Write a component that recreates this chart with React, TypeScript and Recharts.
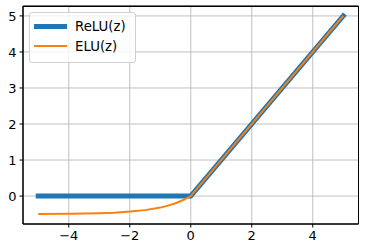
import { LineChart, Line, XAxis, YAxis, CartesianGrid, ReferenceArea } from "recharts";

// z values and activations
const reluZ = [-5, 0, 5];
const reluVals = [0, 0, 5];
const eluZ = [-5, -4, -3, -2.5, -2, -1.5, -1, -0.75, -0.5, -0.25, 0, 5];
const eluVals = [-0.5, -0.49, -0.475, -0.46, -0.43, -0.39, -0.32, -0.265, -0.2, -0.11, 0, 5];
const xTicks = [-4, -2, 0, 2, 4];
const yTicks = [0, 1, 2, 3, 4, 5];
const seriesNames = ["ReLU(z)", "ELU(z)"];

const relu = reluZ.map((x, i) => ({ x, y: reluVals[i] }));
const elu = eluZ.map((x, i) => ({ x, y: eluVals[i] }));

const xDomain = [-5.5, 5.5];
const yDomain = [-0.775, 5.275];

const font = "'DejaVu Sans', sans-serif";
const fmt = (v: number) => String(v).replace("-", "\u2212");

function LegendBox() {
  const items = [
    { name: seriesNames[0], color: "#1f77b4", w: 5 },
    { name: seriesNames[1], color: "#ff7f0e", w: 2 },
  ];
  return (
    <div
      style={{
        position: "absolute",
        left: 29,
        top: 12,
        border: "1px solid #d0d0d0",
        borderRadius: 3,
        background: "rgba(255,255,255,0.8)",
        padding: "3px 9px 6px 4px",
        fontFamily: font,
        fontSize: 13.3,
        color: "#000",
      }}
    >
      {items.map((it) => (
        <div key={it.name} style={{ display: "flex", alignItems: "center", height: 20 }}>
          <div style={{ width: 33, height: it.w, background: it.color, marginRight: 8 }} />
          <span>{it.name}</span>
        </div>
      ))}
    </div>
  );
}

export default function App() {
  return (
    <div style={{ position: "absolute", left: 0, top: 0, width: 365, height: 252 }}>
      <LineChart width={365} height={252} margin={{ top: 6, right: 6.5, bottom: 0, left: 0 }}>
        <CartesianGrid stroke="#b0b0b0" strokeWidth={0.8} />
        <XAxis
          dataKey="x"
          type="number"
          domain={xDomain}
          ticks={xTicks}
          tickFormatter={fmt}
          height={28}
          tickSize={3.5}
          tickMargin={3}
          stroke="#000"
          tick={{ fill: "#000", fontFamily: font, fontSize: 13 }}
          allowDataOverflow
        />
        <YAxis
          type="number"
          domain={yDomain}
          ticks={yTicks}
          width={23}
          tickSize={3.5}
          tickMargin={3}
          stroke="#000"
          tick={{ fill: "#000", fontFamily: font, fontSize: 13 }}
          allowDataOverflow
        />
        <Line
          data={relu}
          dataKey="y"
          stroke="#1f77b4"
          strokeWidth={5}
          strokeLinecap="square"
          dot={false}
          isAnimationActive={false}
        />
        <Line data={elu} dataKey="y" stroke="#ff7f0e" strokeWidth={2} dot={false} isAnimationActive={false} />
        <ReferenceArea
          x1={xDomain[0]}
          x2={xDomain[1]}
          y1={yDomain[0]}
          y2={yDomain[1]}
          fill="none"
          fillOpacity={0}
          stroke="#000"
          strokeOpacity={1}
          strokeWidth={1}
          ifOverflow="visible"
        />
      </LineChart>
      {/* top and right spines of the axes box */}
      <div
        style={{
          position: "absolute",
          left: 23,
          top: 6,
          width: 336,
          height: 218,
          boxSizing: "border-box",
          borderTop: "1px solid #000",
          borderRight: "1px solid #000",
          pointerEvents: "none",
          zIndex: 5,
        }}
      />
      <LegendBox />
    </div>
  );
}
